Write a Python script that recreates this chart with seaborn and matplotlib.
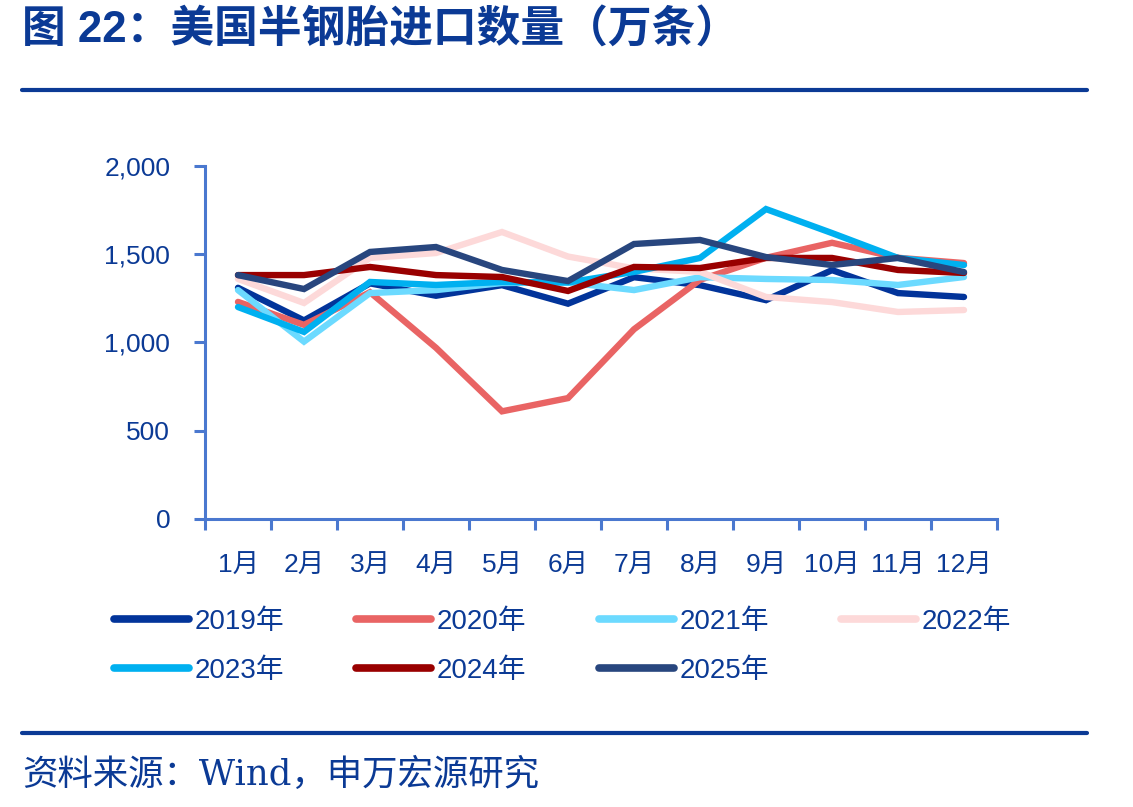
#!/usr/bin/env python3

import pandas as pd
import seaborn as sns
import matplotlib as mpl
import matplotlib.pyplot as plt
from matplotlib.lines import Line2D
from matplotlib.ticker import FuncFormatter

sns.set_theme(style="white")
mpl.rcParams["font.family"] = ["Liberation Sans", "Noto Sans CJK SC", "DejaVu Sans"]

months = ["1月", "2月", "3月", "4月", "5月", "6月", "7月", "8月", "9月", "10月", "11月", "12月"]
years = ["2019年", "2020年", "2021年", "2022年", "2023年", "2024年", "2025年"]

v2019 = [1310, 1125, 1335, 1265, 1325, 1220, 1370, 1325, 1240, 1410, 1280, 1258]
v2020 = [1230, 1100, 1285, 970, 610, 685, 1075, 1355, 1480, 1565, 1480, 1450]
v2021 = [1297, 1005, 1280, 1297, 1337, 1340, 1297, 1370, 1360, 1354, 1326, 1371]
v2022 = [1360, 1224, 1479, 1507, 1626, 1487, 1420, 1400, 1258, 1229, 1173, 1184]
v2023 = [1201, 1060, 1343, 1326, 1343, 1340, 1400, 1479, 1756, 1620, 1479, 1439]
v2024 = [1382, 1382, 1428, 1382, 1371, 1292, 1428, 1422, 1479, 1479, 1411, 1394]
v2025 = [1382, 1303, 1513, 1541, 1411, 1348, 1558, 1581, 1484, 1439, 1479, 1399]

colors = ["#02349A", "#E96464", "#6CDAFF", "#FDD9D9", "#00B0F0", "#990000", "#28467E"]

navy = "#0B3A95"
spine = "#4A78CF"

rows = []
for y, vals in zip(years, [v2019, v2020, v2021, v2022, v2023, v2024, v2025]):
    for i, v in enumerate(vals):
        rows.append({"year": y, "m": i, "v": v})
df = pd.DataFrame(rows)

fig = plt.figure(figsize=(11.33, 8.07), dpi=100)
ax = fig.add_axes([205 / 1133, 1 - 519 / 807, 792 / 1133, 353 / 807])

sns.lineplot(
    data=df, x="m", y="v", hue="year", hue_order=years,
    palette=dict(zip(years, colors)), lw=4.6, ax=ax, sort=False,
)
for ln in ax.lines:
    ln.set_solid_joinstyle("miter")

ax.set_xlim(-0.5, 11.5)
ax.set_ylim(0, 2000)
ax.set_xlabel("")
ax.set_ylabel("")
ax.set_xticks(range(12))
ax.set_xticklabels(months)
ax.set_xticks([i - 0.5 for i in range(13)], minor=True)
ax.set_yticks([0, 500, 1000, 1500, 2000])
ax.yaxis.set_major_formatter(FuncFormatter(lambda x, p: f"{int(x):,}"))

for s in ["top", "right"]:
    ax.spines[s].set_visible(False)
for s in ["left", "bottom"]:
    ax.spines[s].set_color(spine)
    ax.spines[s].set_linewidth(2.2)

ax.tick_params(axis="x", which="major", length=0, pad=25, labelsize=19, labelcolor=navy)
ax.tick_params(axis="x", which="minor", length=8, width=2.2, color=spine, direction="out", bottom=True)
ax.tick_params(axis="y", length=8, width=2.2, color=spine, direction="out", left=True,
               pad=17, labelsize=19, labelcolor=navy)

# legend fills column by column, so reorder to get row-wise reading order
handles, labels = ax.get_legend_handles_labels()
ax.get_legend().remove()
order = [0, 4, 1, 5, 2, 6, 3]
leg = fig.legend(
    [handles[i] for i in order], [labels[i] for i in order],
    loc="upper left", bbox_to_anchor=(114 / 1133, 1 - 609 / 807),
    ncol=4, frameon=False, fontsize=20, handlelength=2.7, handletextpad=0.2,
    columnspacing=2.6, labelspacing=0.82, borderpad=0, borderaxespad=0, labelcolor=navy,
)
for h in leg.legend_handles:
    h.set_linewidth(5.5)
    h.set_solid_capstyle("round")

fig.text(22 / 1133, 1 - 31 / 807, "图 22：美国半钢胎进口数量（万条）",
         fontsize=31.5, fontweight="bold", color=navy, va="center", ha="left")
fig.add_artist(Line2D([22 / 1133, 1087 / 1133], [1 - 90 / 807] * 2, color=navy, lw=3))
fig.add_artist(Line2D([22 / 1133, 1087 / 1133], [1 - 733 / 807] * 2, color=navy, lw=3))
fig.text(22 / 1133, 1 - 775 / 807, "资料来源：Wind，申万宏源研究",
         fontsize=25.5, color=navy, va="center", ha="left",
         family=["DejaVu Serif", "Noto Sans CJK SC"])

plt.savefig("out.png", dpi=100)
